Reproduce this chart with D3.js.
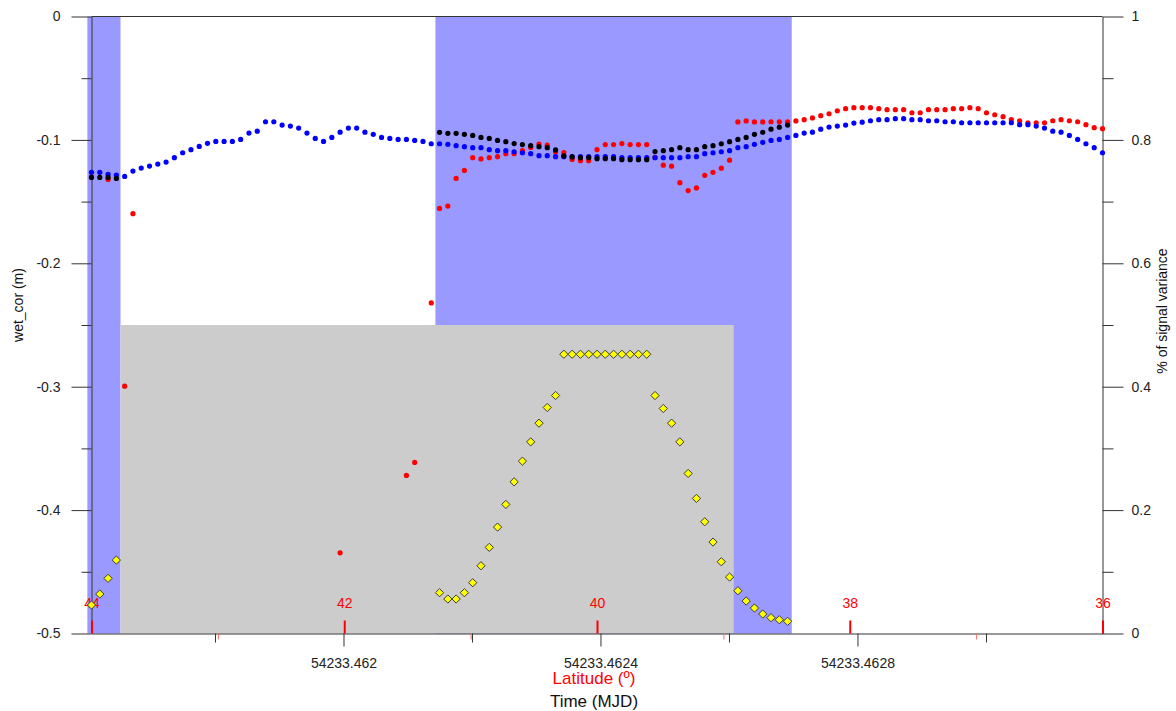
<!DOCTYPE html>
<html>
<head>
<meta charset="utf-8">
<script src="https://cdn.jsdelivr.net/npm/d3@7"></script>
<style>
  body { margin: 0; background: #fff; }
  svg { display: block; font-family: "Liberation Sans", Arial, sans-serif; }
</style>
</head>
<body>
<svg id="chart" width="1176" height="711"></svg>
<script>
// ---- along-track sampling ----
const sampleStart = 54233.4616078;   // MJD of the first record
const sampleStep  = 0.000012898;     // days between records
const latitudeSpan = [44, 36];       // latitude at first / last record (deg)

// ---- tick definitions ----
const timeTicks      = [54233.462, 54233.4624, 54233.4628];
const timeMinorTicks = [54233.4618, 54233.4622, 54233.4626, 54233.463];
const latTicks       = [44, 42, 40, 38, 36];
const latMinorTicks  = [43, 41, 39, 37];
const wetTicks       = [0, -0.1, -0.2, -0.3, -0.4, -0.5];
const wetMinorTicks  = [-0.05, -0.15, -0.25, -0.35, -0.45];
const varTicks       = [0, 0.2, 0.4, 0.6, 0.8, 1];
const varMinorTicks  = [0.1, 0.3, 0.5, 0.7, 0.9];

const gap = n => Array(n).fill(null);

// model wet tropospheric correction (m), blue
const wetModel = [
  -0.1263, -0.1263, -0.1279, -0.1285, -0.1296, -0.1253, -0.1228, -0.1212, -0.1196, -0.1180,
  -0.1144, -0.1104, -0.1079, -0.1053, -0.1028, -0.1012, -0.1012, -0.1012, -0.0996, -0.0945,
  -0.0929, -0.0853, -0.0853, -0.0880, -0.0888, -0.0904, -0.0945, -0.0988, -0.1012, -0.0980,
  -0.0937, -0.0904, -0.0904, -0.0937, -0.0955, -0.0980, -0.0988, -0.0996, -0.0996, -0.1004,
  -0.1012, -0.1031, -0.1031, -0.1036, -0.1047, -0.1055, -0.1063, -0.1063, -0.1079, -0.1087,
  -0.1087, -0.1096, -0.1104, -0.1112, -0.1128, -0.1128, -0.1136, -0.1136, -0.1136, -0.1136,
  -0.1136, -0.1136, -0.1136, -0.1136, -0.1144, -0.1144, -0.1144, -0.1144, -0.1144, -0.1144,
  -0.1144, -0.1144, -0.1136, -0.1136, -0.1112, -0.1104, -0.1096, -0.1087, -0.1063, -0.1055,
  -0.1036, -0.1020, -0.1004, -0.0996, -0.0980, -0.0964, -0.0945, -0.0937, -0.0913, -0.0896,
  -0.0888, -0.0880, -0.0864, -0.0856, -0.0845, -0.0836, -0.0836, -0.0828, -0.0828, -0.0836,
  -0.0836, -0.0845, -0.0845, -0.0853, -0.0853, -0.0861, -0.0861, -0.0861, -0.0861, -0.0861,
  -0.0861, -0.0861, -0.0877, -0.0877, -0.0888, -0.0904, -0.0929, -0.0937, -0.0964, -0.0996,
  -0.1031, -0.1063, -0.1104
];

// radiometer wet tropospheric correction (m), red
const wetRadiometer = [
  -0.1300, null, -0.1320, null, -0.2996, -0.1598, ...gap(24),
  -0.4346, ...gap(7), -0.3719, -0.3614,
  null, -0.2321, -0.1555, -0.1536, -0.1312, -0.1247, -0.1144, -0.1154, -0.1144, -0.1136,
  -0.1112, -0.1112, -0.1087, -0.1061, -0.1034, -0.1043, -0.1099, -0.1103, -0.1158, -0.1168,
  -0.1168, -0.1079, -0.1038, -0.1038, -0.1030, -0.1038, -0.1038, -0.1038, -0.1142, -0.1205,
  -0.1213, -0.1347, -0.1411, -0.1389, -0.1287, -0.1263, -0.1229, -0.1164, -0.0854, -0.0846,
  -0.0854, -0.0854, -0.0853, -0.0853, -0.0853, -0.0846, -0.0836, -0.0822, -0.0804, -0.0788,
  -0.0764, -0.0747, -0.0739, -0.0739, -0.0739, -0.0747, -0.0755, -0.0755, -0.0755, -0.0780,
  -0.0780, -0.0755, -0.0755, -0.0755, -0.0747, -0.0747, -0.0739, -0.0747, -0.0780, -0.0796,
  -0.0812, -0.0836, -0.0845, -0.0861, -0.0861, -0.0861, -0.0845, -0.0836, -0.0845, -0.0853,
  -0.0877, -0.0901, -0.0909
];

// corrected wet tropospheric correction (m), black
const wetCorrected = [
  -0.1304, -0.1304, -0.1304, -0.1312, ...gap(38),
  -0.0939, -0.0947, -0.0947, -0.0955, -0.0964, -0.0980, -0.0988, -0.1004,
  -0.1014, -0.1030, -0.1038, -0.1047, -0.1055, -0.1063, -0.1081, -0.1130, -0.1138, -0.1144,
  -0.1144, -0.1152, -0.1152, -0.1152, -0.1160, -0.1160, -0.1160, -0.1160, -0.1095, -0.1087,
  -0.1079, -0.1063, -0.1079, -0.1079, -0.1055, -0.1047, -0.1031, -0.1014, -0.0996, -0.0980,
  -0.0955, -0.0938, -0.0913, -0.0897, -0.0880, ...gap(38)
];

// fraction of signal variance (right axis), yellow diamonds
const signalVariance = [
  0.0462, 0.0640, 0.0894, 0.1190, ...gap(38),
  0.0661, 0.0559, 0.0559, 0.0661, 0.0823, 0.1098, 0.1396, 0.1725,
  0.2092, 0.2458, 0.2794, 0.3106, 0.3409, 0.3663, 0.3857, 0.4526, 0.4526, 0.4526,
  0.4526, 0.4526, 0.4526, 0.4526, 0.4526, 0.4526, 0.4526, 0.4526, 0.3857, 0.3647,
  0.3409, 0.3106, 0.2594, 0.2190, 0.1811, 0.1482, 0.1163, 0.0915, 0.0693, 0.0526,
  0.0413, 0.0316, 0.0256, 0.0223, 0.0198, ...gap(38)
];

// record ranges (first, last) of the flagged segments and of the land segment
const flaggedRuns = [[0, 3], [42, 84]];
const landRuns = [[4, 77]];
const landLevel = 0.5;

// ---- layout ----
const plot = { left: 91.5, right: 1102.5, top: 16.5, bottom: 633.5 };
const svg = d3.select("#chart");
const font = '"Liberation Sans", Arial, sans-serif';

const nRec = wetModel.length;
const timeOf = i => sampleStart + i * sampleStep;

const x = d3.scaleLinear().domain([timeOf(0), timeOf(nRec - 1)]).range([plot.left, plot.right]);
const xLat = d3.scaleLinear().domain(latitudeSpan).range([plot.left, plot.right]);
const y = d3.scaleLinear().domain([-0.5, 0]).range([plot.bottom, plot.top]);
const y2 = d3.scaleLinear().domain([0, 1]).range([plot.bottom, plot.top]);

const halfStep = (x(timeOf(1)) - x(timeOf(0))) / 2;

// ---- shaded segments ----
svg.append("g").selectAll("rect").data(flaggedRuns).join("rect")
  .attr("x", d => x(timeOf(d[0])) - halfStep)
  .attr("width", d => x(timeOf(d[1])) - x(timeOf(d[0])) + 2 * halfStep)
  .attr("y", y2(1))
  .attr("height", y2(0) - y2(1))
  .attr("fill", "#9999ff");

svg.append("g").selectAll("rect").data(landRuns).join("rect")
  .attr("x", d => x(timeOf(d[0])) - halfStep)
  .attr("width", d => x(timeOf(d[1])) - x(timeOf(d[0])) + 2 * halfStep)
  .attr("y", y2(landLevel))
  .attr("height", y2(0) - y2(landLevel))
  .attr("fill", "#cccccc");

// ---- axes ----
const axisColor = "#333";
function styleAxis(g, color, size) {
  g.attr("font-family", font).attr("font-size", size);
  g.selectAll(".tick line").attr("stroke", color);
  g.selectAll(".domain").attr("stroke", axisColor);
  g.selectAll(".tick text").attr("fill", "#222");
}

// top frame
svg.append("line")
  .attr("x1", plot.left).attr("x2", plot.right)
  .attr("y1", plot.top).attr("y2", plot.top)
  .attr("stroke", axisColor);

// left: wet_cor
svg.append("g").attr("transform", `translate(${plot.left},0)`)
  .call(d3.axisLeft(y).tickValues(wetMinorTicks).tickSize(10).tickFormat(""))
  .call(g => g.select(".domain").remove())
  .call(g => g.selectAll(".tick line").attr("stroke", axisColor));
svg.append("g").attr("transform", `translate(${plot.left},0)`)
  .call(d3.axisLeft(y).tickValues(wetTicks).tickSize(20).tickSizeOuter(0).tickPadding(11).tickFormat(d => String(d)))
  .call(g => styleAxis(g, axisColor, 14));

// right: % of signal variance
svg.append("g").attr("transform", `translate(${plot.right},0)`)
  .call(d3.axisRight(y2).tickValues(varMinorTicks).tickSize(11).tickFormat(""))
  .call(g => g.select(".domain").remove())
  .call(g => g.selectAll(".tick line").attr("stroke", axisColor));
svg.append("g").attr("transform", `translate(${plot.right},0)`)
  .call(d3.axisRight(y2).tickValues(varTicks).tickSize(21).tickSizeOuter(0).tickPadding(8).tickFormat(d => String(d)))
  .call(g => styleAxis(g, axisColor, 14));

// bottom: time (MJD)
svg.append("g").attr("transform", `translate(0,${plot.bottom})`)
  .call(d3.axisBottom(x).tickValues(timeMinorTicks).tickSize(9).tickFormat(""))
  .call(g => g.select(".domain").remove())
  .call(g => g.selectAll(".tick line").attr("stroke", axisColor));
svg.append("g").attr("transform", `translate(0,${plot.bottom})`)
  .call(d3.axisBottom(x).tickValues(timeTicks).tickSize(13).tickSizeOuter(0).tickPadding(11.5).tickFormat(d => String(d)))
  .call(g => styleAxis(g, axisColor, 14));

// bottom, inside: latitude
svg.append("g").attr("transform", `translate(0,${plot.bottom})`)
  .call(d3.axisBottom(xLat).tickValues(latMinorTicks).tickSize(6).tickFormat(""))
  .call(g => g.select(".domain").remove())
  .call(g => g.selectAll(".tick line").attr("stroke", "#ff6a6a"));
svg.append("g").attr("transform", `translate(0,${plot.bottom})`)
  .call(d3.axisTop(xLat).tickValues(latTicks).tickSize(13).tickPadding(12.5).tickFormat(d => String(d)))
  .call(g => g.select(".domain").remove())
  .call(g => g.attr("font-family", font).attr("font-size", 14))
  .call(g => g.selectAll(".tick line").attr("stroke", "#ff0000").attr("stroke-width", 2))
  .call(g => g.selectAll(".tick text").attr("fill", "#ff0000"));

// axis titles
const midX = (plot.left + plot.right) / 2 - 3;
svg.append("text").attr("x", midX).attr("y", 684)
  .attr("text-anchor", "middle").attr("font-size", 17).attr("fill", "#ff0000")
  .text("Latitude (º)");
svg.append("text").attr("x", midX).attr("y", 707)
  .attr("text-anchor", "middle").attr("font-size", 17).attr("fill", "#111")
  .text("Time (MJD)");
svg.append("text")
  .attr("transform", "translate(23,305) rotate(-90)")
  .attr("text-anchor", "middle").attr("font-size", 14).attr("fill", "#111")
  .text("wet_cor (m)");
svg.append("text")
  .attr("transform", "translate(1167,311) rotate(-90)")
  .attr("text-anchor", "middle").attr("font-size", 14).attr("fill", "#111")
  .text("% of signal variance");

// ---- point series ----
function dotSeries(values, color) {
  const pts = values.map((v, i) => ({ t: timeOf(i), v })).filter(d => d.v !== null);
  svg.append("g").selectAll("circle").data(pts).join("circle")
    .attr("cx", d => x(d.t))
    .attr("cy", d => y(d.v))
    .attr("r", 2.6)
    .attr("fill", color);
}
dotSeries(wetRadiometer, "#ff0000");
dotSeries(wetModel, "#0000ff");
dotSeries(wetCorrected, "#000000");

const diamond = d3.symbol().type(d3.symbolSquare).size(34);
const varPts = signalVariance.map((v, i) => ({ t: timeOf(i), v })).filter(d => d.v !== null);
svg.append("g").selectAll("path").data(varPts).join("path")
  .attr("d", diamond)
  .attr("transform", d => `translate(${x(d.t)},${y2(d.v)}) rotate(45)`)
  .attr("fill", "#ffff00")
  .attr("stroke", "#333")
  .attr("stroke-width", 0.9);
</script>
</body>
</html>
